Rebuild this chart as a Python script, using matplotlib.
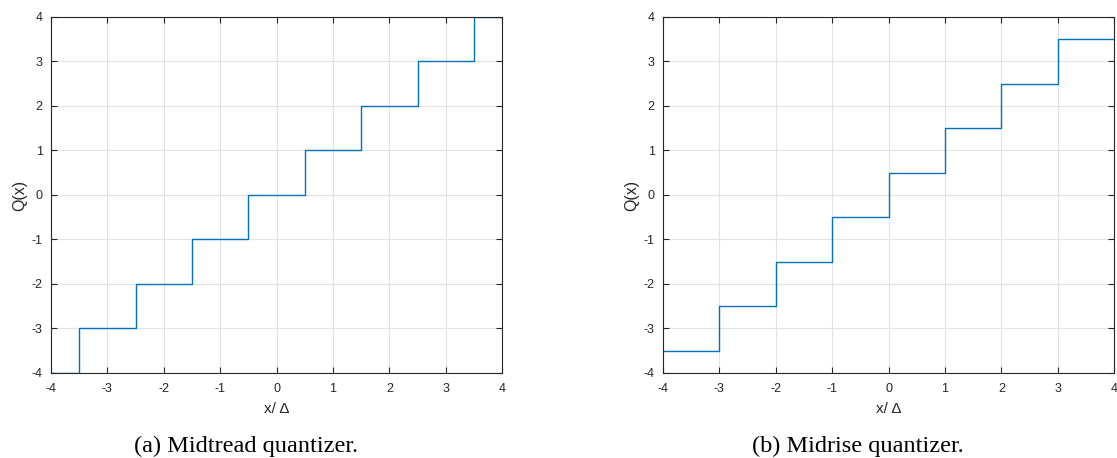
import matplotlib
matplotlib.use("Agg")
import matplotlib.pyplot as plt

# midtread quantizer: step edges and levels
tread_x = [-4, -3.5, -2.5, -1.5, -0.5, 0.5, 1.5, 2.5, 3.5, 4]
tread_q = [-4, -3, -2, -1, 0, 1, 2, 3, 4, 4]

# midrise quantizer
rise_x = [-4, -3, -2, -1, 0, 1, 2, 3, 4]
rise_q = [-3.5, -2.5, -1.5, -0.5, 0.5, 1.5, 2.5, 3.5, 3.5]

ticks = [-4, -3, -2, -1, 0, 1, 2, 3, 4]
tick_labels = ['-4', '-3', '-2', '-1', '0', '1', '2', '3', '4']
captions = ["(a) Midtread quantizer.", "(b) Midrise quantizer."]

plt.rcParams['font.family'] = ['Liberation Sans', 'DejaVu Sans']

fig = plt.figure(figsize=(11.17, 4.58), dpi=100)
ax1 = fig.add_axes([0.0457, 0.1856, 0.4038, 0.7773])
ax2 = fig.add_axes([0.5936, 0.1856, 0.4038, 0.7773])

for ax, xs, qs in [(ax1, tread_x, tread_q), (ax2, rise_x, rise_q)]:
    ax.step(xs, qs, where='post', color='#0072BD', linewidth=1.0)
    ax.set_xlim(-4, 4)
    ax.set_ylim(-4, 4)
    ax.set_xticks(ticks, tick_labels)
    ax.set_yticks(ticks, tick_labels)
    ax.grid(True, color='#e3e3e3', linewidth=0.8)
    ax.set_axisbelow(True)
    ax.tick_params(direction='in', length=4, width=0.8, colors='#262626', labelsize=9,
                   top=True, right=True)
    ax.tick_params(axis='x', pad=7)
    ax.tick_params(axis='y', pad=6)
    for s in ax.spines.values():
        s.set_color('#262626')
        s.set_linewidth(0.8)
    ax.set_xlabel('x/ Δ', fontsize=11, color='#262626', labelpad=5)
    ax.set_ylabel('Q(x)', fontsize=11.5, color='#262626', labelpad=3)

fig.text(246 / 1117, 0.013, captions[0], ha='center', va='baseline',
         fontsize=17.5, family=['Liberation Serif', 'DejaVu Serif'])
fig.text(858 / 1117, 0.013, captions[1], ha='center', va='baseline',
         fontsize=17.5, family=['Liberation Serif', 'DejaVu Serif'])

fig.savefig('out.png', dpi=100)
